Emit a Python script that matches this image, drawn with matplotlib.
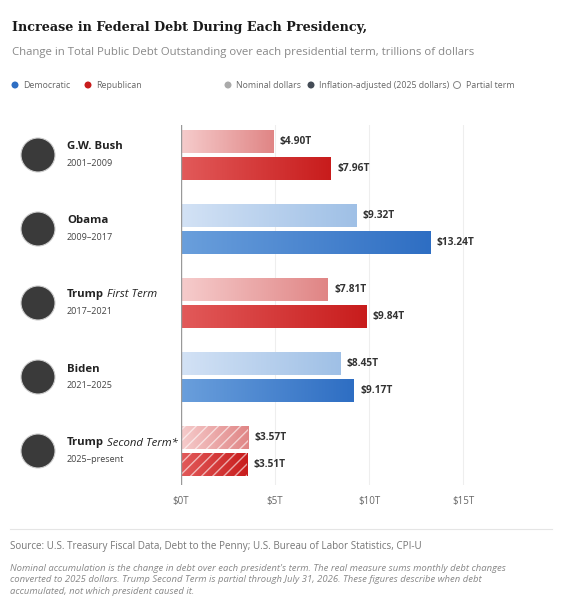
import matplotlib
matplotlib.use("Agg")
import matplotlib.pyplot as plt
import numpy as np
from matplotlib.patches import Rectangle, Circle
from matplotlib.colors import LinearSegmentedColormap

plt.rcParams['font.family'] = ['Open Sans', 'DejaVu Sans']

names = ["G.W. Bush", "Obama", "Trump", "Biden", "Trump"]
suffix = ["", "", "First Term", "", "Second Term*"]
years = ["2001–2009", "2009–2017", "2017–2021", "2021–2025", "2025–present"]
party = ["R", "D", "R", "D", "R"]
nominal = [4.90, 9.32, 7.81, 8.45, 3.57]
real = [7.96, 13.24, 9.84, 9.17, 3.51]
partial = [False, False, False, False, True]
ticks = [0, 5, 10, 15]

W, H = 565, 606
fig = plt.figure(figsize=(W/100, H/100), dpi=100)
ax = fig.add_axes([181/W, 1-485/H, 350/W, 360/H])
ax.set_xlim(0, 18.6)
ax.set_ylim(4.46, -0.405)

grads = {
    ("R", "n"): ("#f6cccc", "#e08585"),
    ("R", "r"): ("#e25a5a", "#c81c1c"),
    ("D", "n"): ("#d3e2f5", "#9fc0e6"),
    ("D", "r"): ("#6a9fdc", "#2e6ec3"),
}
bh = 0.31
off = 0.185
for i in range(len(names)):
    for kind, v, dy in (("n", nominal[i], -off), ("r", real[i], off)):
        c0, c1 = grads[(party[i], kind)]
        cmap = LinearSegmentedColormap.from_list("g", [c0, c1])
        y0, y1 = i + dy - bh/2, i + dy + bh/2
        im = ax.imshow(np.linspace(0, 1, 256)[None, :], cmap=cmap, aspect='auto',
                       extent=(0, v, y1, y0), zorder=2)
        r = Rectangle((0, y0), v, bh, transform=ax.transData, facecolor='none',
                      edgecolor='none')
        ax.add_patch(r)
        im.set_clip_path(r)
        if partial[i]:
            ax.add_patch(Rectangle((0, y0), v, bh, facecolor='none', edgecolor='white',
                                   hatch='///', linewidth=0, alpha=0.6, zorder=3))
        ax.text(v + 0.35, i + dy, f"${v:.2f}T", va='center', ha='left',
                fontsize=7.3, fontweight='bold', color='#333333')

for t in ticks:
    ax.axvline(t, color='#eeeeee', lw=0.8, zorder=0)
ax.axvline(0, color='#999999', lw=1, zorder=4)
ax.set_xticks(ticks)
ax.set_xticklabels([f"${t}T" for t in ticks], fontsize=7, color='#666666')
ax.tick_params(axis='x', length=0, pad=8)
ax.set_yticks([])
for s in ax.spines.values():
    s.set_visible(False)
ax.patch.set_alpha(0)

for i in range(len(names)):
    yp = 1 - (155 + 74*i)/H
    circ = Circle((38, H - (155 + 74*i)), 17, transform=None, facecolor='#3a3a3a',
                  edgecolor='#cccccc', lw=0.8)
    fig.patches.append(circ)
    t = fig.text(67/W, yp + 8/H, names[i], fontsize=8.2, fontweight='bold',
                 color='#222222', va='center')
    if suffix[i]:
        fig.canvas.draw()
        bb = t.get_window_extent()
        fig.text(bb.x1/W + 3/W, yp + 8/H, suffix[i], fontsize=8.2, style='italic',
                 color='#222222', va='center')
    fig.text(67/W, yp - 9/H, years[i], fontsize=6.5, color='#444444', va='center')

fig.text(12/W, 1-28/H, "Increase in Federal Debt During Each Presidency,",
         family='DejaVu Serif', fontweight='bold', fontsize=9.2, color='#1a1a1a', va='center')
fig.text(12/W, 1-52/H, "Change in Total Public Debt Outstanding over each presidential term, trillions of dollars",
         fontsize=8.2, color='#888888', va='center')

ly = H - 85
fs_leg = 6.3
def dot(x, c):
    fig.patches.append(Circle((x, ly), 3.5, transform=None, facecolor=c, edgecolor='none'))
dot(15, '#2e6ec3'); fig.text(23/W, 1-85/H, "Democratic", fontsize=fs_leg, color='#666666', va='center')
dot(88, '#c81c1c'); fig.text(96/W, 1-85/H, "Republican", fontsize=fs_leg, color='#666666', va='center')
dot(228, '#aaaaaa'); fig.text(236/W, 1-85/H, "Nominal dollars", fontsize=fs_leg, color='#666666', va='center')
dot(311, '#444c56'); fig.text(319/W, 1-85/H, "Inflation-adjusted (2025 dollars)", fontsize=fs_leg, color='#666666', va='center')
fig.patches.append(Circle((457, ly), 3.5, transform=None, facecolor='none', edgecolor='#888888', lw=0.7))
fig.text(466/W, 1-85/H, "Partial term", fontsize=fs_leg, color='#666666', va='center')

fig.add_artist(plt.Line2D([10/W, 552/W], [1-529/H, 1-529/H], color='#e5e5e5', lw=0.8))
fig.text(10/W, 1-547/H, "Source: U.S. Treasury Fiscal Data, Debt to the Penny; U.S. Bureau of Labor Statistics, CPI-U",
         fontsize=7.1, color='#777777', va='center')
fig.text(10/W, 1-580/H,
         "Nominal accumulation is the change in debt over each president's term. The real measure sums monthly debt changes\n"
         "converted to 2025 dollars. Trump Second Term is partial through July 31, 2026. These figures describe when debt\n"
         "accumulated, not which president caused it.",
         fontsize=6.8, style='italic', color='#888888', va='center', linespacing=1.35)

fig.savefig("out.png", dpi=100, facecolor='white')
